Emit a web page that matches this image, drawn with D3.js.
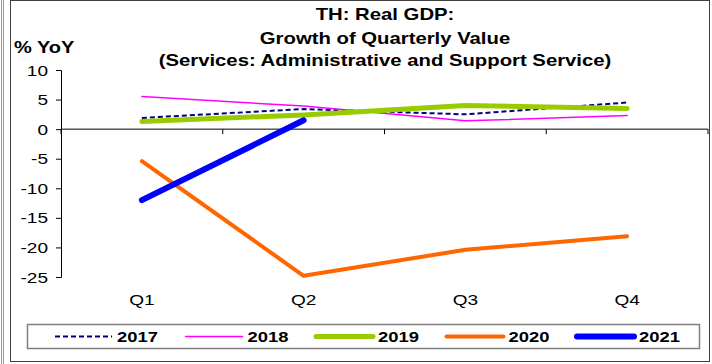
<!DOCTYPE html>
<html><head><meta charset="utf-8">
<script src="https://cdn.jsdelivr.net/npm/d3@7/dist/d3.min.js"></script>
<style>
html,body{margin:0;padding:0;background:#fff;}
svg{display:block;font-family:"Liberation Sans",Arial,sans-serif;}
</style></head>
<body><svg id="c" width="712" height="364"></svg>
<script>
const categories = ["Q1","Q2","Q3","Q4"];
const yTicks = [-25,-20,-15,-10,-5,0,5,10];
const seriesNames = ["2017","2018","2019","2020","2021"];
const s2017 = [1.9, 3.4, 2.5, 4.5];
const s2018 = [5.5, 3.9, 1.4, 2.3];
const s2019 = [1.3, 2.4, 4.0, 3.5];
const s2020 = [-5.4, -24.8, -20.4, -18.1];
const s2021 = [-12.0, 1.5];
const titleLines = ["TH: Real GDP:", "Growth of Quarterly Value", "(Services: Administrative and Support Service)"];
const yLabel = "% YoY";

const values = [s2017, s2018, s2019, s2020, s2021];
const styles = [
  {color:"#000080", width:2, dash:"5,3"},
  {color:"#FF00FF", width:1.5, dash:null},
  {color:"#99CC00", width:5, dash:null},
  {color:"#FF6600", width:4, dash:null},
  {color:"#0000FF", width:6, dash:null}
];
const SX = 1.27; // horizontal stretch of text

const svg = d3.select("#c");
function stext(g, x, y, txt, opts){
  const t = g.append("text").attr("transform",`translate(${x},${y}) scale(${opts.sx||SX},1)`)
    .attr("text-anchor",opts.anchor||"start").attr("font-size",opts.size)
    .attr("font-weight",opts.bold?"bold":"normal").attr("fill","#000").text(txt);
  return t;
}
// frame
svg.append("line").attr("x1",1.5).attr("x2",1.5).attr("y1",0).attr("y2",364).attr("stroke","#999").attr("stroke-width",1);
svg.append("line").attr("x1",3.5).attr("x2",3.5).attr("y1",0).attr("y2",364).attr("stroke","#999").attr("stroke-width",1);
svg.append("rect").attr("x",10.5).attr("y",0.5).attr("width",699).attr("height",361)
  .attr("fill","#fff").attr("stroke","#404040").attr("stroke-width",1);

const x = d3.scaleBand().domain(categories).range([61,708]).padding(0);
const y = d3.scaleLinear().domain([-25,10]).range([277,70]);

// title
titleLines.forEach((t,i)=>{
  stext(svg, 385, [20,44,66][i], t, {anchor:"middle", size:16, bold:true});
});
stext(svg, 14, 53, yLabel, {size:16, bold:true, sx:1.25});

// y axis
const ya = svg.append("g").attr("transform","translate(61,0)")
  .call(d3.axisLeft(y).tickValues(yTicks).tickSize(5).tickPadding(4).tickFormat(d=>String(d)));
ya.selectAll("text").remove();
ya.selectAll("line,path").attr("stroke","#000");
yTicks.forEach(v=>{
  stext(svg, 48, y(v)+5.5, String(v), {anchor:"end", size:15});
});

// x axis at zero
const y0 = y(0);
svg.append("line").attr("x1",61).attr("x2",708).attr("y1",y0).attr("y2",y0).attr("stroke","#000").attr("stroke-width",1);
const bounds = categories.map(c=>x(c)).concat([x(categories[categories.length-1])+x.bandwidth()]);
svg.selectAll(".xt").data(bounds).enter().append("line")
  .attr("x1",d=>d).attr("x2",d=>d).attr("y1",y0).attr("y2",y0+5).attr("stroke","#000");
categories.forEach(c=>{
  stext(svg, x(c)+x.bandwidth()/2, 305, c, {anchor:"middle", size:15});
});

// lines
const line = d3.line().x((d,i)=>x(categories[i])+x.bandwidth()/2).y(d=>y(d));
values.forEach((v,i)=>{
  const st = styles[i];
  svg.append("path").attr("d",line(v)).attr("fill","none").attr("stroke",st.color)
    .attr("stroke-width",st.width).attr("stroke-dasharray",st.dash)
    .attr("stroke-linecap", st.dash ? "butt" : "round").attr("stroke-linejoin","round");
});

// legend
svg.append("rect").attr("x",27.5).attr("y",324.5).attr("width",672).attr("height",24)
  .attr("fill","#fff").attr("stroke","#808080").attr("stroke-width",1.5);
seriesNames.forEach((n,i)=>{
  const st = styles[i];
  const x0 = 55 + i*130.5;
  svg.append("line").attr("x1",x0).attr("x2",x0+57).attr("y1",336.5).attr("y2",336.5)
    .attr("stroke",st.color).attr("stroke-width",st.width).attr("stroke-dasharray",st.dash)
    .attr("stroke-linecap", st.dash ? "butt" : "round");
  stext(svg, x0+62, 342, n, {size:14.5, bold:true});
});
</script></body></html>
